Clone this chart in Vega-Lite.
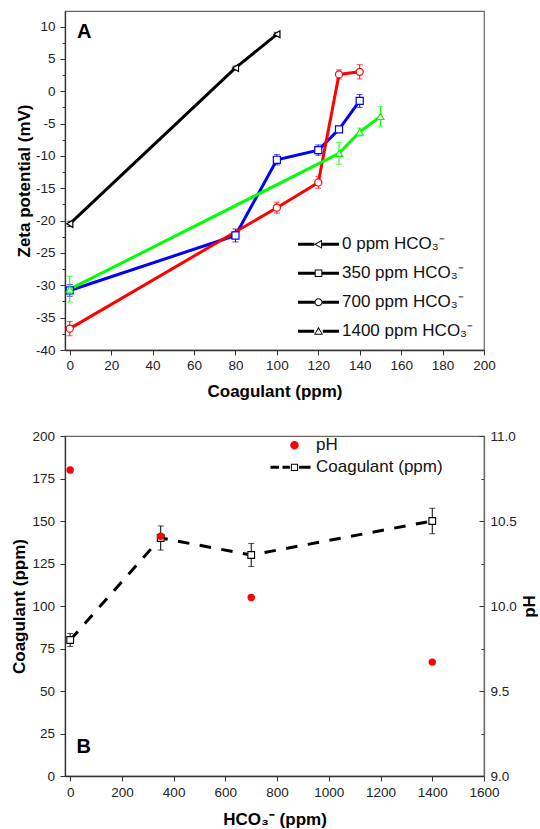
{
  "$schema": "https://vega.github.io/schema/vega-lite/v6.json",
  "padding": {"left": 10, "top": 10, "right": 0, "bottom": 0},
  "bounds": "flush",
  "spacing": 86,
  "resolve": {"scale": {"fill": "independent", "shape": "independent", "color": "independent", "stroke": "independent"}},
  "config": {
    "font": "Liberation Sans",
    "view": {"stroke": "#666", "strokeWidth": 1.2},
    "axis": {
      "labelFont": "Liberation Sans", "labelFontSize": 13.5, "labelColor": "#222",
      "titleFont": "Liberation Sans", "titleFontSize": 17, "titleFontWeight": "bold", "titleColor": "#000",
      "domainColor": "#333", "domainWidth": 1.3, "tickColor": "#333", "tickWidth": 1,
      "grid": false, "labelFlush": false, "labelOverlap": false
    },
    "legend": {
      "labelFont": "Liberation Sans", "labelFontSize": 17, "labelColor": "#111",
      "symbolSize": 4, "symbolStrokeWidth": 0, "padding": 0, "labelOffset": 22.5, "labelLimit": 300
    }
  },
  "datasets": {
    "zeta": [
      {"s": "0 ppm HCO₃⁻", "x": 0, "y": -20.5, "e": 0.4},
      {"s": "0 ppm HCO₃⁻", "x": 80, "y": 3.6, "e": 0.3},
      {"s": "0 ppm HCO₃⁻", "x": 100, "y": 8.8, "e": 0.3},
      {"s": "350 ppm HCO₃⁻", "x": 0, "y": -30.8, "e": 0.9},
      {"s": "350 ppm HCO₃⁻", "x": 80, "y": -22.3, "e": 1.0},
      {"s": "350 ppm HCO₃⁻", "x": 100, "y": -10.6, "e": 0.8},
      {"s": "350 ppm HCO₃⁻", "x": 120, "y": -9.1, "e": 0.8},
      {"s": "350 ppm HCO₃⁻", "x": 130, "y": -5.9, "e": 0.3},
      {"s": "350 ppm HCO₃⁻", "x": 140, "y": -1.5, "e": 1.0},
      {"s": "700 ppm HCO₃⁻", "x": 0, "y": -36.7, "e": 1.1},
      {"s": "700 ppm HCO₃⁻", "x": 100, "y": -18.0, "e": 0.85},
      {"s": "700 ppm HCO₃⁻", "x": 120, "y": -14.1, "e": 0.9},
      {"s": "700 ppm HCO₃⁻", "x": 130, "y": 2.6, "e": 0.7},
      {"s": "700 ppm HCO₃⁻", "x": 140, "y": 3.0, "e": 1.1},
      {"s": "1400 ppm HCO₃⁻", "x": 0, "y": -30.6, "e": 2.0},
      {"s": "1400 ppm HCO₃⁻", "x": 130, "y": -9.6, "e": 1.7},
      {"s": "1400 ppm HCO₃⁻", "x": 140, "y": -6.3, "e": 0.6},
      {"s": "1400 ppm HCO₃⁻", "x": 150, "y": -3.9, "e": 1.5}
    ],
    "coag": [
      {"x": 0, "c": 80, "e": 3.8},
      {"x": 350, "c": 140, "e": 7.1},
      {"x": 700, "c": 130, "e": 6.8},
      {"x": 1400, "c": 150, "e": 7.5}
    ],
    "ph": [
      {"x": 0, "p": 10.8},
      {"x": 350, "p": 10.41},
      {"x": 700, "p": 10.05},
      {"x": 1400, "p": 9.67}
    ],
    "legA": [
      {"s": "0 ppm HCO₃⁻"}, {"s": "350 ppm HCO₃⁻"}, {"s": "700 ppm HCO₃⁻"}, {"s": "1400 ppm HCO₃⁻"}
    ],
    "legB": [
      {"s": "pH"}, {"s": "Coagulant (ppm)"}
    ],
    "labA": [{"label": "A", "x": 7, "y": 9.2}],
    "labB": [{"label": "B", "x": 52, "y": 17}]
  },
  "vconcat": [
    {
      "width": 419,
      "height": 339,
      "resolve": {"scale": {"shape": "independent"}, "axis": {"y": "independent"}},
      "layer": [
        {
          "data": {"name": "zeta"},
          "mark": {"type": "line", "strokeWidth": 3},
          "encoding": {
            "x": {"field": "x", "type": "quantitative", "title": "Coagulant (ppm)",
              "scale": {"domain": [-2.3, 200], "nice": false, "zero": false},
              "axis": {
                "values": [0,10,20,30,40,50,60,70,80,90,100,110,120,130,140,150,160,170,180,190,200],
                "labelExpr": "datum.value % 20 === 0 ? datum.label : ''",
                "tickSize": {"condition": {"test": "datum.value % 20 !== 0", "value": 3}, "value": 5},
                "labelPadding": 3, "titlePadding": 12, "labelOverlap": false
              }
            },
            "y": {"field": "y", "type": "quantitative", "title": "Zeta potential (mV)",
              "scale": {"domain": [-40, 12.4], "nice": false, "zero": false},
              "axis": {
                "orient": "left",
                "values": [-40,-35,-30,-25,-20,-15,-10,-5,0,5,10],
                "labelExpr": "'' + datum.value",
                "tickSize": 5, "labelPadding": 5, "titlePadding": 2, "labelOverlap": false
              }
            },
            "color": {"field": "s", "type": "nominal", "legend": null,
              "scale": {"domain": ["0 ppm HCO₃⁻", "350 ppm HCO₃⁻", "700 ppm HCO₃⁻", "1400 ppm HCO₃⁻"],
                        "range": ["#000000", "#0000ff", "#ff0000", "#00ff00"]}}
          }
        },
        {
          "mark": {"type": "rule", "color": "#ff3030", "strokeWidth": 1, "strokeDash": [3, 2]},
          "encoding": {"y": {"datum": 0, "type": "quantitative",
            "scale": {"domain": [-40, 12.4], "nice": false, "zero": false},
            "axis": {
              "orient": "left", "title": null, "labels": false, "domain": false,
              "values": [-37.5,-32.5,-27.5,-22.5,-17.5,-12.5,-7.5,-2.5,2.5,7.5],
              "tickSize": 3
            }}}
        },
        {
          "data": {"name": "zeta"},
          "mark": {"type": "errorbar", "ticks": true, "size": 6, "thickness": 1},
          "encoding": {
            "x": {"field": "x", "type": "quantitative", "title": "Coagulant (ppm)", "scale": {"domain": [-2.3, 200], "nice": false, "zero": false}},
            "y": {"field": "y", "type": "quantitative", "title": "Zeta potential (mV)", "scale": {"domain": [-40, 12.4], "nice": false, "zero": false}, "axis": null},
            "yError": {"field": "e"},
            "color": {"field": "s", "type": "nominal", "legend": null}
          }
        },
        {
          "data": {"name": "zeta"},
          "mark": {"type": "point", "filled": true, "fill": "white", "strokeWidth": 1.2, "size": 50, "opacity": 1},
          "encoding": {
            "x": {"field": "x", "type": "quantitative", "title": "Coagulant (ppm)", "scale": {"domain": [-2.3, 200], "nice": false, "zero": false}},
            "y": {"field": "y", "type": "quantitative", "title": "Zeta potential (mV)", "scale": {"domain": [-40, 12.4], "nice": false, "zero": false}, "axis": null},
            "stroke": {"field": "s", "type": "nominal", "legend": null,
              "scale": {"domain": ["0 ppm HCO₃⁻", "350 ppm HCO₃⁻", "700 ppm HCO₃⁻", "1400 ppm HCO₃⁻"],
                        "range": ["#000000", "#0000ff", "#ff0000", "#00ff00"]}},
            "shape": {"field": "s", "type": "nominal", "legend": null,
              "scale": {"domain": ["0 ppm HCO₃⁻", "350 ppm HCO₃⁻", "700 ppm HCO₃⁻", "1400 ppm HCO₃⁻"],
                        "range": ["triangle-left", "square", "circle", "triangle-up"]}}
          }
        },
        {
          "data": {"name": "labA"},
          "mark": {"type": "text", "fontSize": 20, "fontWeight": "bold", "font": "Liberation Sans", "align": "center", "baseline": "middle", "color": "#000"},
          "encoding": {
            "x": {"field": "x", "type": "quantitative", "title": "Coagulant (ppm)", "scale": {"domain": [-2.3, 200], "nice": false, "zero": false}},
            "y": {"field": "y", "type": "quantitative", "title": "Zeta potential (mV)", "scale": {"domain": [-40, 12.4], "nice": false, "zero": false}, "axis": null},
            "text": {"field": "label"}
          }
        },
        {
          "data": {"name": "legA"},
          "transform": [{"filter": "false"}],
          "mark": {"type": "point", "filled": true, "opacity": 1},
          "encoding": {
            "fill": {"field": "s", "type": "nominal",
              "scale": {"domain": ["0 ppm HCO₃⁻", "350 ppm HCO₃⁻", "700 ppm HCO₃⁻", "1400 ppm HCO₃⁻"],
                        "range": ["#000000", "#0000ff", "#ff0000", "#00ff00"]},
              "legend": {"title": null, "orient": "none", "legendX": 245, "legendY": 224.8, "rowPadding": 11, "labelOffset": 15}},
            "shape": {"field": "s", "type": "nominal",
              "scale": {"domain": ["0 ppm HCO₃⁻", "350 ppm HCO₃⁻", "700 ppm HCO₃⁻", "1400 ppm HCO₃⁻"],
                        "range": [
                          "M-20.5,-1.5H-4.2V1.5H-20.5Z M3.6,-1.5H20.5V1.5H3.6Z M-4.5,0L3.5,-4.5L3.5,4.5Z M-2.4,0L2.5,2.9L2.5,-2.9Z",
                          "M-20.5,-1.5H-3.8V1.5H-20.5Z M3.8,-1.5H20.5V1.5H3.8Z M-3.8,-3.8H3.8V3.8H-3.8Z M-2.8,-2.8V2.8H2.8V-2.8Z",
                          "M-20.5,-1.5H-3.9V1.5H-20.5Z M3.9,-1.5H20.5V1.5H3.9Z M-4,0A4,4 0 1,1 4,0A4,4 0 1,1 -4,0Z M-3,0A3,3 0 1,0 3,0A3,3 0 1,0 -3,0Z",
                          "M-20.5,-1.5H-4.3V1.5H-20.5Z M4.3,-1.5H20.5V1.5H4.3Z M0,-4.5L4.5,3.5L-4.5,3.5Z M0,-2.4L-3.1,2.5L3.1,2.5Z"
                        ]},
              "legend": {"title": null, "orient": "none", "legendX": 245, "legendY": 224.8, "rowPadding": 11, "labelOffset": 15}}
          }
        }
      ]
    },
    {
      "width": 419,
      "height": 340,
      "resolve": {"scale": {"y": "independent"}},
      "layer": [
        {
          "layer": [
            {
              "data": {"name": "coag"},
              "mark": {"type": "line", "strokeWidth": 3, "color": "#000", "strokeDash": [11.5, 10.5]},
              "encoding": {
                "x": {"field": "x", "type": "quantitative", "title": "HCO₃⁻ (ppm)",
                  "scale": {"domain": [-20, 1600], "nice": false, "zero": false},
                  "axis": {
                    "values": [0,100,200,300,400,500,600,700,800,900,1000,1100,1200,1300,1400,1500,1600],
                    "labelExpr": "datum.value % 200 === 0 ? '' + datum.value : ''",
                    "tickSize": {"condition": {"test": "datum.value % 200 !== 0", "value": 3}, "value": 5},
                    "labelPadding": 4, "titlePadding": 13, "labelOverlap": false
                  }
                },
                "y": {"field": "c", "type": "quantitative", "title": "Coagulant (ppm)",
                  "scale": {"domain": [0, 200], "nice": false, "zero": false},
                  "axis": {
                    "values": [0,12.5,25,37.5,50,62.5,75,87.5,100,112.5,125,137.5,150,162.5,175,187.5,200],
                    "labelExpr": "datum.value % 25 === 0 ? datum.label : ''",
                    "tickSize": {"condition": {"test": "datum.value % 25 !== 0", "value": 3}, "value": 5},
                    "labelPadding": 5.5, "titlePadding": 3, "labelOverlap": false
                  }
                }
              }
            },
            {
              "data": {"name": "coag"},
              "mark": {"type": "errorbar", "ticks": true, "size": 6, "thickness": 1, "color": "#000"},
              "encoding": {
                "x": {"field": "x", "type": "quantitative", "title": "HCO₃⁻ (ppm)", "scale": {"domain": [-20, 1600], "nice": false, "zero": false}},
                "y": {"field": "c", "type": "quantitative", "title": "Coagulant (ppm)", "scale": {"domain": [0, 200], "nice": false, "zero": false}},
                "yError": {"field": "e"}
              }
            },
            {
              "data": {"name": "coag"},
              "mark": {"type": "square", "filled": true, "fill": "white", "stroke": "#000", "strokeWidth": 1.1, "size": 45, "opacity": 1},
              "encoding": {
                "x": {"field": "x", "type": "quantitative", "title": "HCO₃⁻ (ppm)", "scale": {"domain": [-20, 1600], "nice": false, "zero": false}},
                "y": {"field": "c", "type": "quantitative", "title": "Coagulant (ppm)", "scale": {"domain": [0, 200], "nice": false, "zero": false}}
              }
            },
            {
              "data": {"name": "labB"},
              "mark": {"type": "text", "fontSize": 20, "fontWeight": "bold", "font": "Liberation Sans", "align": "center", "baseline": "middle", "color": "#000"},
              "encoding": {
                "x": {"field": "x", "type": "quantitative", "title": "HCO₃⁻ (ppm)", "scale": {"domain": [-20, 1600], "nice": false, "zero": false}},
                "y": {"field": "y", "type": "quantitative", "title": "Coagulant (ppm)", "scale": {"domain": [0, 200], "nice": false, "zero": false}},
                "text": {"field": "label"}
              }
            },
            {
              "data": {"name": "legB"},
              "transform": [{"filter": "false"}],
              "mark": {"type": "point", "filled": true, "opacity": 1},
              "encoding": {
                "fill": {"field": "s", "type": "nominal",
                  "scale": {"domain": ["pH", "Coagulant (ppm)"], "range": ["#ff0000", "#000000"]},
                  "legend": {"title": null, "orient": "none", "legendX": 221, "legendY": 0.8, "rowPadding": 4, "labelOffset": 13}},
                "shape": {"field": "s", "type": "nominal",
                  "scale": {"domain": ["pH", "Coagulant (ppm)"],
                            "range": [
                              "M-4.2,0A4.2,4.2 0 1,1 4.2,0A4.2,4.2 0 1,1 -4.2,0Z",
                              "M-24,-1.5H-15.5V1.5H-24Z M-12,-1.5H-4.6V1.5H-12Z M4.6,-1.5H16V1.5H4.6Z M-3.6,-3.6H3.6V3.6H-3.6Z M-2.6,-2.6V2.6H2.6V-2.6Z"
                            ]},
                  "legend": {"title": null, "orient": "none", "legendX": 221, "legendY": 0.8, "rowPadding": 4, "labelOffset": 13}}
              }
            }
          ]
        },
        {
          "data": {"name": "ph"},
          "mark": {"type": "circle", "color": "#ff0000", "size": 55, "opacity": 1},
          "encoding": {
            "x": {"field": "x", "type": "quantitative", "title": "HCO₃⁻ (ppm)", "scale": {"domain": [-20, 1600], "nice": false, "zero": false}},
            "y": {"field": "p", "type": "quantitative", "title": "pH",
              "scale": {"domain": [9, 11], "nice": false, "zero": false},
              "axis": {
                "orient": "right",
                "values": [9,9.25,9.5,9.75,10,10.25,10.5,10.75,11],
                "labelExpr": "datum.value % 0.5 === 0 ? format(datum.value, '.1f') : ''",
                "tickSize": {"condition": {"test": "datum.value % 0.5 !== 0", "value": -3}, "value": -5},
                "labelPadding": 11, "titleAngle": 270, "titleBaseline": "top", "titlePadding": 5,
                "domainColor": "#666", "labelOverlap": false
              }
            }
          }
        }
      ]
    }
  ]
}
